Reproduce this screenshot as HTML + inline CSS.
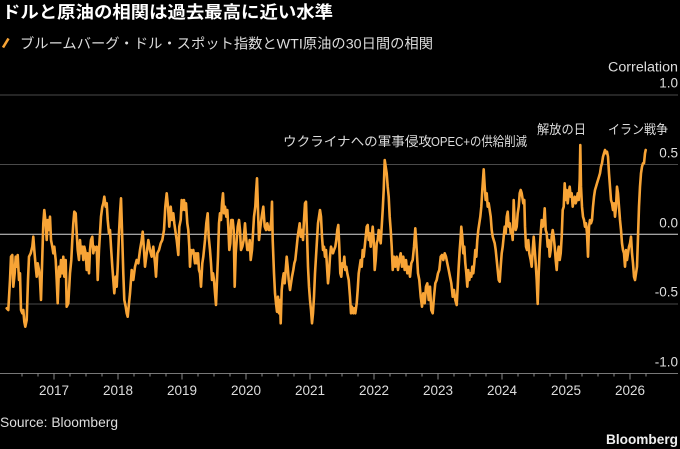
<!DOCTYPE html>
<html><head><meta charset="utf-8">
<style>
html,body{margin:0;padding:0;background:#000;}
svg{display:block;}
text{font-family:"Liberation Sans","Noto Sans CJK JP",sans-serif;}
</style></head>
<body>
<svg width="680" height="449" viewBox="0 0 680 449" xmlns="http://www.w3.org/2000/svg">
<rect width="680" height="449" fill="#000"/>
<text x="2" y="18" font-size="17" font-weight="bold" fill="#fff" textLength="331" lengthAdjust="spacingAndGlyphs">ドルと原油の相関は過去最高に近い水準</text>
<line x1="3" y1="47.5" x2="8.5" y2="38.5" stroke="#f8a436" stroke-width="2.6"/>
<text x="20" y="48.5" font-size="14" fill="#ddd" textLength="413" lengthAdjust="spacingAndGlyphs">ブルームバーグ・ドル・スポット指数とWTI原油の30日間の相関</text>
<text x="678" y="71.7" font-size="13.5" fill="#ddd" text-anchor="end" textLength="70" lengthAdjust="spacingAndGlyphs">Correlation</text>
<g stroke-width="1">
<line x1="0" y1="95" x2="678" y2="95" stroke="#4a4a4a"/>
<line x1="0" y1="164.5" x2="678" y2="164.5" stroke="#4a4a4a"/>
<line x1="0" y1="304" x2="678" y2="304" stroke="#4a4a4a"/>
<line x1="0" y1="234.3" x2="678" y2="234.3" stroke="#d8d8d8"/>
<line x1="0" y1="373.5" x2="678" y2="373.5" stroke="#777"/>
</g>
<g font-size="13.5" fill="#ddd" text-anchor="end">
<text x="678" y="87.3">1.0</text>
<text x="678" y="157.3">0.5</text>
<text x="678" y="227.3">0.0</text>
<text x="678" y="296.7">-0.5</text>
<text x="678" y="366.7">-1.0</text>
</g>
<g stroke="#888" stroke-width="1">
<line x1="22" y1="373" x2="22" y2="376.5"/><line x1="38" y1="373" x2="38" y2="376.5"/>
<line x1="54" y1="373" x2="54" y2="379.5"/><line x1="70" y1="373" x2="70" y2="376.5"/><line x1="86" y1="373" x2="86" y2="376.5"/><line x1="102" y1="373" x2="102" y2="376.5"/>
<line x1="118" y1="373" x2="118" y2="379.5"/><line x1="134" y1="373" x2="134" y2="376.5"/><line x1="150" y1="373" x2="150" y2="376.5"/><line x1="166" y1="373" x2="166" y2="376.5"/>
<line x1="182" y1="373" x2="182" y2="379.5"/><line x1="198" y1="373" x2="198" y2="376.5"/><line x1="214" y1="373" x2="214" y2="376.5"/><line x1="230" y1="373" x2="230" y2="376.5"/>
<line x1="246" y1="373" x2="246" y2="379.5"/><line x1="262" y1="373" x2="262" y2="376.5"/><line x1="278" y1="373" x2="278" y2="376.5"/><line x1="294" y1="373" x2="294" y2="376.5"/>
<line x1="310" y1="373" x2="310" y2="379.5"/><line x1="326" y1="373" x2="326" y2="376.5"/><line x1="342" y1="373" x2="342" y2="376.5"/><line x1="358" y1="373" x2="358" y2="376.5"/>
<line x1="374" y1="373" x2="374" y2="379.5"/><line x1="390" y1="373" x2="390" y2="376.5"/><line x1="406" y1="373" x2="406" y2="376.5"/><line x1="422" y1="373" x2="422" y2="376.5"/>
<line x1="438" y1="373" x2="438" y2="379.5"/><line x1="454" y1="373" x2="454" y2="376.5"/><line x1="470" y1="373" x2="470" y2="376.5"/><line x1="486" y1="373" x2="486" y2="376.5"/>
<line x1="502" y1="373" x2="502" y2="379.5"/><line x1="518" y1="373" x2="518" y2="376.5"/><line x1="534" y1="373" x2="534" y2="376.5"/><line x1="550" y1="373" x2="550" y2="376.5"/>
<line x1="566" y1="373" x2="566" y2="379.5"/><line x1="582" y1="373" x2="582" y2="376.5"/><line x1="598" y1="373" x2="598" y2="376.5"/><line x1="614" y1="373" x2="614" y2="376.5"/>
<line x1="630" y1="373" x2="630" y2="379.5"/><line x1="646" y1="373" x2="646" y2="376.5"/>
</g>
<g font-size="13.5" fill="#ddd" text-anchor="middle">
<text x="54" y="395">2017</text><text x="118" y="395">2018</text><text x="182" y="395">2019</text><text x="246" y="395">2020</text><text x="310" y="395">2021</text>
<text x="374" y="395">2022</text><text x="438" y="395">2023</text><text x="502" y="395">2024</text><text x="566" y="395">2025</text><text x="630" y="395">2026</text>
</g>
<g font-size="13" fill="#ddd">
<text x="283" y="146" textLength="149" lengthAdjust="spacingAndGlyphs">ウクライナへの軍事侵攻</text>
<text x="431" y="146" textLength="96" lengthAdjust="spacingAndGlyphs">OPEC+の供給削減</text>
<text x="537" y="134" textLength="49" lengthAdjust="spacingAndGlyphs">解放の日</text>
<text x="608" y="134" textLength="60" lengthAdjust="spacingAndGlyphs">イラン戦争</text>
</g>
<polyline fill="none" stroke="#f8a436" stroke-width="2.6" stroke-linejoin="round" stroke-linecap="round" points="
6.7,308.3 8.3,310 10,280 11,256.7 12.3,255 13.3,286.7 14.7,273.3 15.7,256.7 16.7,266.7 17.7,255 19,280 20,273.3 21,310 22.3,313.3 23.3,310 24.3,321.7 25.3,326.7 26.7,320 28,280 29,256.7 30.7,253.3 32.3,246.7 33.3,236.7 34.3,250 35.7,266.7 36.7,276.7 37.7,263.3 39,270 40,280 41,300 42.3,256.7 43.3,223.3 44.3,210 45.7,223.3 46.7,240 47.7,220 49,230 50,216.7 51,240 52.3,246.7 53.3,253.3 54.3,246.7 55.7,260 56.7,280 57.7,303.3 59,266.7 60,276.7 61,260 62.3,273.3 63.3,256.7 64.3,276.7 65.7,260 66.7,306.7 68.3,303.3 70,273.3 71.3,260 72.3,240 73.3,223.3 74.3,211.7 75.7,213.3 76.7,233.3 77.7,250 79,260 80,240 81,253.3 82.3,246.7 83.3,260 84.3,246.7 85.7,253.3 86.7,270 87.7,253.3 89,273.3 90,250 91,240 92.3,236.7 93.3,253.3 94.3,246.7 95.7,250 96.7,246.7 97.7,280 99,250 100,233.3 101,216.7 102.3,206.7 103.3,203.3 104.3,196.7 105.7,206.7 106.7,203.3 107.7,220 109,233.3 110,230 111,246.7 112.3,266.7 113.3,280 114.3,293.3 115.7,276.7 116.7,286.7 117.7,266.7 119,233.3 120,213.3 121,198.3 122,230 123.3,273.3 124.3,300 125.7,306.7 126.7,313.3 127.7,316.7 129,303.3 130,293.3
131.7,270 133.3,280 135,266.7 136.7,260 138.3,263.3 140,250 141.7,240 142.7,231.7 144,250 145,266.7 146.7,253.3 148.3,240 150,250 151.7,256.7 153.3,246.7 155,263.3 156,276.7 157.3,253.3 159,250 160.7,243.3 162.3,240 164,230 165.3,206.7 166.7,193.3 168,206.7 169.3,226.7 170.7,206.7 172,220 173.3,213.3 174.3,223.3 175.7,233.3 176.7,240 178.3,255 179.3,226.7 180.7,220 181.7,200 182.7,210 184,200 185,210 186,203.3 187.3,223.3 188.3,230 189.3,246.7 190,266.7 191,250 192.3,253.3 193.3,250 195,263.3 196,253.3 197,263.3 198,253.3 199,270 200,273.3 201,286.7 202.3,263.3 203.3,256.7 205,240 206.3,223.3 207.7,213.3 208.7,236.7 210,250 211,263.3 212,280 213,273.3 214,280 215,293.3 216,305 217,280 218,256.7 219,223.3 220,213.3 221,220 222,203.3 223,193.3 224,213.3 225,206.7 226.3,216.7 227.3,210 228.3,226.7 229.3,250 230.3,243.3 231.3,220 232.7,220 233.7,230 234.7,286.7 235.7,253.3 236.7,240 237.7,226.7 239,220 240,230 241,250 242.3,246.7 243.7,240 245,223.3 246,236.7 247.3,250 248.7,250 249.7,240 250.7,260 252,250 253,233.3 254,216.7 255.3,206.7 256,193.3 257,178.3 258,210 259,240 260,230
261.7,216.7 263.3,206.7 264.7,226.7 266,230 267.3,223.3 268.7,230 270,230 271.3,220 272,201.7 272.7,240 274,273.3 275,293.3 276,303.3 277,311.7 278,296.7 279,313.3 280,300 280.7,323.3 281.7,290 282.7,280 283.7,273.3 284.7,283.3 285.7,270 286.7,256.7 287.7,266.7 288.7,280 290,290 291,283.3 292,276.7 293.3,270 294.3,263.3 295.3,260 296.7,246.7 297.7,236.7 298.7,230 299.7,223.3 300.7,236.7 302,230 303,240 304,220 305,203.3 306,201.7 307,233.3 308,266.7 309,286.7 310,300 311,310 312,323.3 313,313.3 314,296.7 315,273.3 316,256.7 317,240 318,223.3 319,216.7 320,210 321,216.7 322,236.7 323,250 324,246.7 325,256.7 326,250 327,266.7 328,283.3 329,273.3 330,256.7 331,246.7 332,250 333,253.3 334,250 335.3,246.7 336.3,240 337.3,230 338.3,225 339.3,246.7 340.3,273.3 341.3,276.7 342.3,263.3 343.3,266.7 344.3,256.7 345.3,270 346.3,266.7 347.3,273.3 348.7,280 350,296.7 351,313.3 352,306.7 353.3,313.3 354.3,308.3 355.3,313.3 356.7,303.3 357.7,290 358.7,273.3 359.7,266.7 360.7,260 361.7,266.7 362.7,250 363.7,256.7 364.7,246.7 365.7,236.7 366.7,226.7 367.7,225 368.7,240 369.7,233.3 370.7,246.7 371.7,236.7 372.7,226.7 373.7,240 374.7,270 375.7,260 376.7,243.3 377.7,240 378.7,230 379.7,236.7 380.7,243.3 381.7,226.7 382.7,210 383.7,190 384.7,160 385.7,166.7 386.7,173.3 387.7,186.7 388.7,196.7 389.7,216.7 390.7,230 391.7,246.7 392.7,270
394,256.7 395.3,266.7 396.7,256.7 398,270 399.3,260 400.7,253.3 402,266.7 403.3,256.7 404.7,270 406,260 407.3,273.3 408.7,266.7 410,276.7 411.3,263.3 412.7,260 414,246.7 415.3,228.3 416.7,250 418,273.3 419.3,280 420.7,296.7 422,306.7 423.3,293.3 424.7,303.3 426,286.7 427.3,283.3 428.7,300 430,286.7 431.3,310 432.7,313.3 434,296.7 435.3,283.3 436.7,280 438,273.3 439.3,270 440.7,256.7 442,255 443.3,260 444.7,253.3 446,256.7 447.3,263.3 448.7,270 450,276.7 451.3,283.3 452.7,296.7 454,290 455.3,300 456.7,305 457.7,286.7 458.7,266.7 459.7,250 460.7,236.7 461.3,226.7 462.3,236.7 463.3,253.3 464.3,246.7 465.3,263.3 466.3,273.3 467.3,286.7 468.3,270 469.3,280 470.3,273.3 471.3,276.7 472.3,266.7 473.3,273.3 474.3,263.3 475.3,250 476.3,256.7 477.3,240 478.3,230 479.3,223.3 480.3,216.7 481.3,206.7 482.3,190 483.7,169.3 484.7,186.7 485.7,200 486.7,193.3 487.7,206.7 488.7,203.3 489.7,210 490.7,216.7 491.7,230 492.7,236.7 493.7,240 494.7,243.3 495.7,250 496.7,260 497.7,270 498.7,280 499.7,281.7 500.7,266.7 501.7,253.3 502.7,246.7 503.7,236.7 504.7,226.7 505.7,233.3 506.7,216.7 507.7,211.7 508.7,226.7 509.7,223.3 510.7,233.3 511.7,230 512.7,240 513.7,200 514.7,223.3 515.7,230 516.7,226.7 517.7,213.3 518.7,206.7 519.7,193.3 520.7,190
521.7,193.3 523.3,203.3 524.3,200 525,226.7 526,246.7 527,250 528.3,240 529.3,253.3 530.7,260 531.7,266.7 532.7,250 533.7,236.7 534.7,250 535.7,263.3 536.7,280 537.7,304 538.7,273.3 539.7,250 540.7,233.3 541.7,220 542.7,226.7 543.7,223.3 544.7,208.3 545.7,230 546.7,233.3 547.7,246.7 548.7,240 549.7,256.7 550.7,250 551.7,236.7 552.7,230 553.7,236.7 554.7,246.7 555.7,260 556.7,270 557.7,253.3 558.7,246.7 559.7,260 560.7,253.3 561.7,236.7 562.7,210 563.7,206.7 564.7,183.3 565.7,200 566.7,190 567.7,203.3 568.7,193.3 569.7,186.7 570.7,196.7 571.7,193.3 572.7,206.7 573.7,200 574.7,196.7 575.7,203.3 576.7,200 577.7,193.3 578.7,200 579.7,180 580.3,145 581,186.7 582,206.7 583,216.7 584,220 585,226.7 586,223.3 587,233.3 588,256.7 589,226.7 590,220 591,223.3 592,220 593,206.7 594,196.7 595,190 596,186.7 597,183.3 598,180 599,176.7 600,173.3 601,166.7 602,163.3 603,156.7 604,153.3 605,150 606,153.3 607,151.7 608,156.7 609,173.3 610,186.7 611,200 612,203.3 613,210 614,203.3 615,216.7 616,206.7 617,186.7 618,193.3 619,206.7 620,220 621,230 622,243.3 623,250 624,253.3 625,266.7 626,250 627,260 628,253.3 629,246.7 630,243.3 631,236.7 632,253.3 633,263.3 634,276.7 635,280 636,273.3 637,266.7 638,236.7 639,206.7 640,186.7 641,173.3 642,166.7 643,163.3 644,163.3 645,153.3 645.7,150"/>
<text x="0" y="427" font-size="13.5" fill="#ddd" textLength="118" lengthAdjust="spacingAndGlyphs">Source: Bloomberg</text>
<text x="678" y="444" font-size="13.5" font-weight="bold" fill="#eee" text-anchor="end" textLength="72" lengthAdjust="spacingAndGlyphs">Bloomberg</text>
</svg>
</body></html>
